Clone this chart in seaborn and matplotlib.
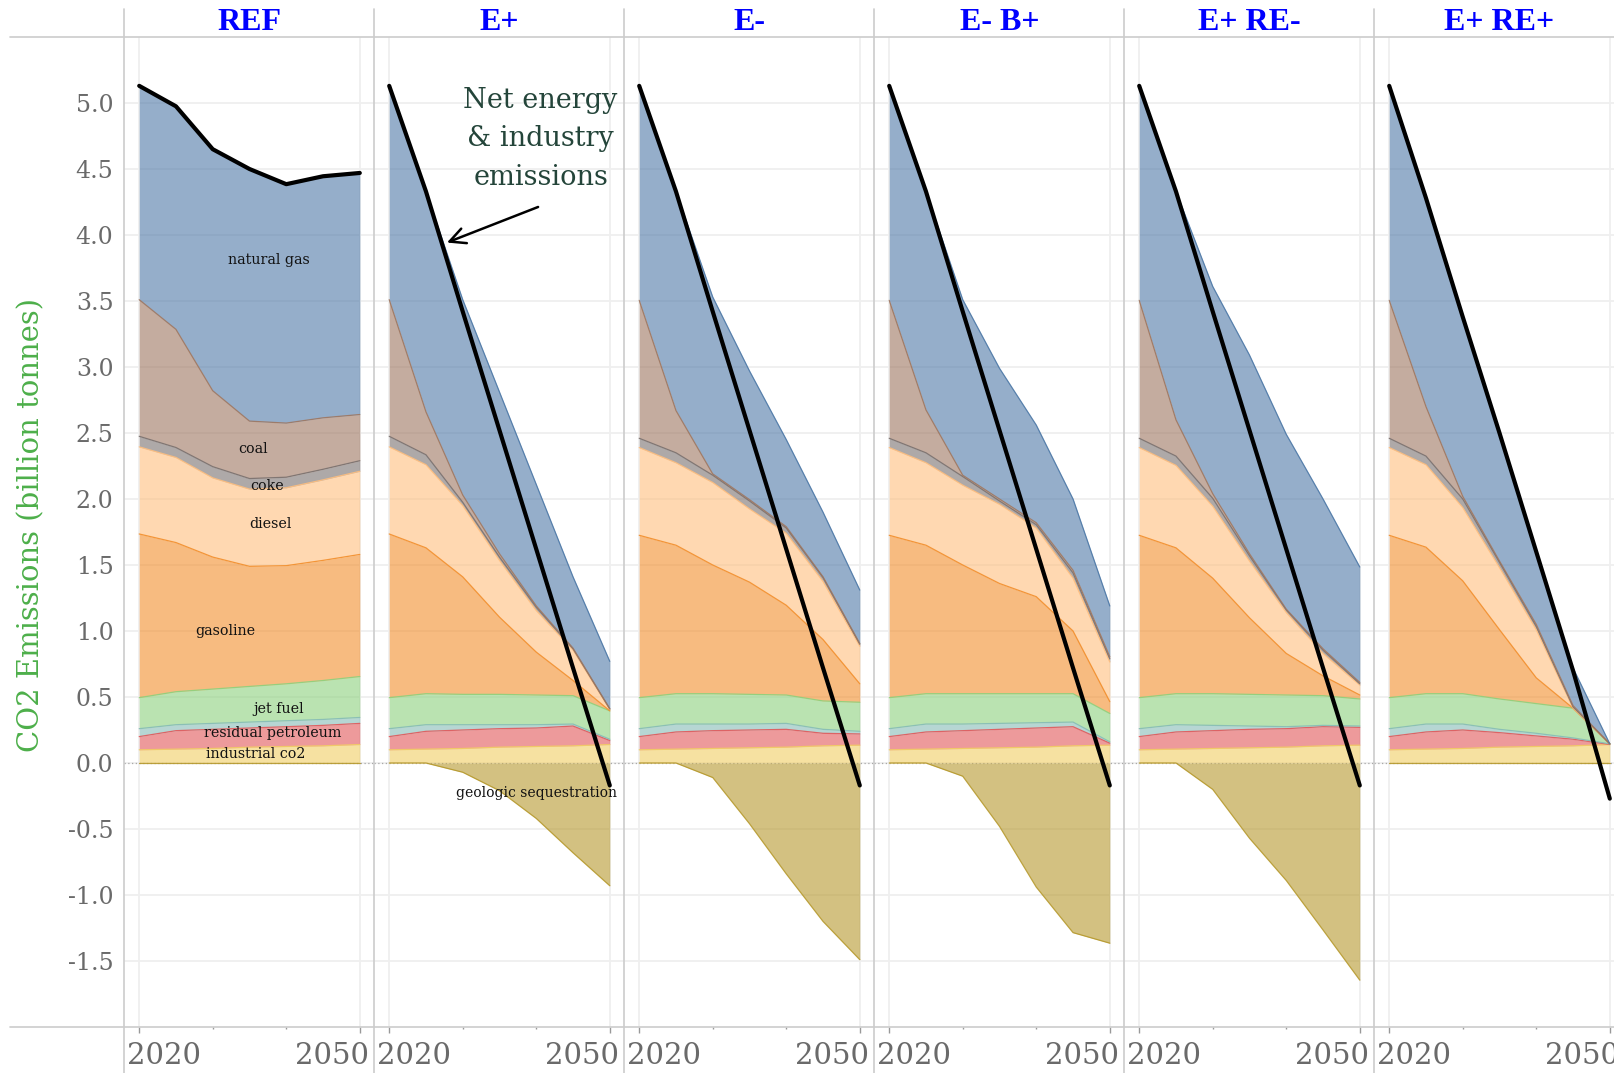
import numpy as np
import pandas as pd
import matplotlib
matplotlib.use("Agg")
import matplotlib.pyplot as plt
import matplotlib.transforms as mtransforms
from matplotlib.lines import Line2D
import seaborn as sns

YEARS = [2020, 2025, 2030, 2035, 2040, 2045, 2050]
SCENARIOS = ["REF", "E+", "E-", "E- B+", "E+ RE-", "E+ RE+"]

# billion tonnes CO2, one row per scenario (same order as SCENARIOS)
industrial_co2 = [
    [0.10, 0.105, 0.11, 0.12, 0.125, 0.13, 0.14],
    [0.10, 0.105, 0.11, 0.12, 0.125, 0.13, 0.14],
    [0.10, 0.105, 0.11, 0.115, 0.12, 0.13, 0.135],
    [0.10, 0.105, 0.11, 0.115, 0.12, 0.13, 0.135],
    [0.10, 0.105, 0.11, 0.115, 0.12, 0.13, 0.135],
    [0.10, 0.105, 0.11, 0.12, 0.125, 0.13, 0.14],
]
residual_petroleum = [
    [0.10, 0.14, 0.145, 0.145, 0.15, 0.155, 0.16],
    [0.10, 0.135, 0.14, 0.14, 0.14, 0.15, 0.03],
    [0.10, 0.13, 0.135, 0.135, 0.135, 0.095, 0.085],
    [0.10, 0.13, 0.135, 0.14, 0.145, 0.145, 0.015],
    [0.10, 0.13, 0.135, 0.14, 0.14, 0.145, 0.135],
    [0.10, 0.13, 0.14, 0.11, 0.08, 0.05, 0.0],
]
other_petroleum = [
    [0.06, 0.045, 0.045, 0.045, 0.045, 0.045, 0.045],
    [0.06, 0.05, 0.04, 0.03, 0.025, 0.015, 0.01],
    [0.06, 0.06, 0.05, 0.045, 0.045, 0.03, 0.02],
    [0.06, 0.06, 0.05, 0.045, 0.04, 0.035, 0.01],
    [0.06, 0.055, 0.04, 0.025, 0.015, 0.01, 0.01],
    [0.06, 0.06, 0.045, 0.025, 0.02, 0.01, 0.005],
]
jet_fuel = [
    [0.235, 0.25, 0.26, 0.27, 0.28, 0.295, 0.31],
    [0.235, 0.235, 0.23, 0.23, 0.225, 0.215, 0.215],
    [0.235, 0.23, 0.23, 0.225, 0.215, 0.215, 0.22],
    [0.235, 0.23, 0.23, 0.225, 0.22, 0.215, 0.215],
    [0.235, 0.235, 0.24, 0.24, 0.24, 0.225, 0.205],
    [0.235, 0.23, 0.23, 0.23, 0.225, 0.225, 0.0],
]
gasoline = [
    [1.24, 1.13, 1.0, 0.91, 0.895, 0.91, 0.925],
    [1.24, 1.105, 0.89, 0.585, 0.325, 0.115, 0.0],
    [1.23, 1.125, 0.975, 0.85, 0.68, 0.465, 0.14],
    [1.23, 1.125, 0.975, 0.835, 0.735, 0.475, 0.09],
    [1.23, 1.105, 0.875, 0.58, 0.315, 0.15, 0.03],
    [1.23, 1.11, 0.855, 0.525, 0.195, 0.0, 0.0],
]
diesel = [
    [0.66, 0.645, 0.6, 0.585, 0.59, 0.61, 0.63],
    [0.66, 0.63, 0.54, 0.43, 0.315, 0.23, 0.01],
    [0.665, 0.625, 0.625, 0.555, 0.545, 0.44, 0.285],
    [0.665, 0.625, 0.605, 0.60, 0.52, 0.40, 0.30],
    [0.665, 0.625, 0.545, 0.43, 0.31, 0.17, 0.075],
    [0.665, 0.625, 0.555, 0.47, 0.365, 0.0, 0.0],
]
coke = [
    [0.08, 0.075, 0.085, 0.08, 0.08, 0.08, 0.08],
    [0.08, 0.075, 0.025, 0.025, 0.025, 0.01, 0.005],
    [0.07, 0.075, 0.055, 0.06, 0.04, 0.03, 0.015],
    [0.07, 0.075, 0.065, 0.025, 0.025, 0.04, 0.025],
    [0.07, 0.07, 0.06, 0.04, 0.02, 0.025, 0.01],
    [0.07, 0.065, 0.065, 0.04, 0.025, 0.01, 0.0],
]
coal = [
    [1.035, 0.895, 0.575, 0.435, 0.41, 0.39, 0.35],
    [1.035, 0.325, 0.055, 0.025, 0.01, 0.005, 0.0],
    [1.045, 0.32, 0.01, 0.01, 0.01, 0.005, 0.005],
    [1.045, 0.325, 0.01, 0.015, 0.015, 0.02, 0.015],
    [1.045, 0.275, 0.035, 0.015, 0.005, 0.01, 0.01],
    [1.045, 0.375, 0.02, 0.01, 0.015, 0.01, 0.0],
]
natural_gas = [
    [1.62, 1.69, 1.83, 1.91, 1.81, 1.83, 1.83],
    [1.62, 1.67, 1.48, 1.225, 0.92, 0.54, 0.36],
    [1.625, 1.66, 1.34, 0.975, 0.66, 0.49, 0.405],
    [1.625, 1.655, 1.33, 0.99, 0.74, 0.54, 0.385],
    [1.625, 1.73, 1.57, 1.505, 1.325, 1.135, 0.875],
    [1.625, 1.58, 1.36, 0.97, 0.55, 0.285, 0.0],
]
geologic_sequestration = [
    [0, 0, 0, 0, 0, 0, 0],
    [0, 0, -0.07, -0.21, -0.42, -0.68, -0.93],
    [0, 0, -0.11, -0.46, -0.84, -1.20, -1.49],
    [0, 0, -0.10, -0.48, -0.94, -1.285, -1.365],
    [0, 0, -0.20, -0.57, -0.89, -1.265, -1.645],
    [0, 0, 0, 0, 0, 0, 0],
]
net_emissions = [
    [5.13, 4.975, 4.65, 4.50, 4.385, 4.445, 4.47],
    [5.13, 4.33, 3.42, 2.52, 1.62, 0.72, -0.17],
    [5.13, 4.33, 3.42, 2.52, 1.62, 0.72, -0.17],
    [5.13, 4.33, 3.42, 2.52, 1.62, 0.72, -0.17],
    [5.13, 4.33, 3.42, 2.52, 1.62, 0.72, -0.17],
    [5.13, 4.28, 3.38, 2.50, 1.60, 0.70, -0.27],
]

STACK = [
    ("industrial co2", industrial_co2, "#f1ce63"),
    ("residual petroleum", residual_petroleum, "#e15759"),
    ("other petroleum", other_petroleum, "#86bcb6"),
    ("jet fuel", jet_fuel, "#8cd17d"),
    ("gasoline", gasoline, "#f28e2b"),
    ("diesel", diesel, "#ffbe7d"),
    ("coke", coke, "#79706e"),
    ("coal", coal, "#9d7660"),
    ("natural gas", natural_gas, "#4e79a7"),
]
SEQ_COLOR = "#b6992d"

# labels drawn inside the REF panel (year, value)
ref_labels = [
    ("natural gas", 2037.7, 3.81),
    ("coal", 2035.5, 2.38),
    ("coke", 2037.4, 2.10),
    ("diesel", 2037.8, 1.81),
    ("gasoline", 2031.7, 1.00),
    ("jet fuel", 2039.0, 0.41),
    ("residual petroleum", 2038.1, 0.23),
    ("industrial co2", 2035.8, 0.066),
]

W, H = 1615, 1073
LEFT0, PANEL_W, TOP, BOTTOM = 124.5, 250, 37, 1027
GRID = "#cccccc"
TICK_GRAY = "#6a6a6a"

sns.set_theme(style="white")
plt.rcParams["font.family"] = ["DejaVu Serif", "DejaVu Sans"]

df_net = pd.DataFrame([
    {"scenario": s, "year": y, "net": v}
    for s, row in zip(SCENARIOS, net_emissions)
    for y, v in zip(YEARS, row)
])

fig = plt.figure(figsize=(W / 100, H / 100), dpi=100)

axes = []
for k, scen in enumerate(SCENARIOS):
    left = LEFT0 + PANEL_W * k
    ax = fig.add_axes([left / W, 1 - BOTTOM / H, PANEL_W / W, (BOTTOM - TOP) / H])
    axes.append(ax)
    ax.set_axisbelow(True)

    lower = np.zeros(len(YEARS))
    for name, data, col in STACK:
        upper = lower + np.array(data[k])
        ax.fill_between(YEARS, lower, upper, color=col, alpha=0.6, lw=0, zorder=2)
        ax.plot(YEARS, upper, color=col, lw=0.9, alpha=0.9, zorder=3)
        lower = upper
    seq = np.array(geologic_sequestration[k])
    ax.fill_between(YEARS, 0, seq, color=SEQ_COLOR, alpha=0.6, lw=0, zorder=2)
    ax.plot(YEARS, seq, color=SEQ_COLOR, lw=0.9, alpha=0.9, zorder=3)

    ax.axhline(0, color="#a8a8a8", lw=0.9, ls=(0, (1, 2)), zorder=1)

    sns.lineplot(data=df_net[df_net.scenario == scen], x="year", y="net",
                 color="black", lw=3.0, ax=ax, zorder=5)

    ax.set_xlim(2018, 2052)
    ax.set_ylim(-2.0, 5.5)
    ax.set_xlabel("")
    ax.set_ylabel("")
    for sp in ax.spines.values():
        sp.set_visible(False)

    ax.set_yticks(np.arange(-1.5, 5.01, 0.5))
    ax.set_xticks([2020, 2050])
    ax.set_xticks([2030, 2040], minor=True)
    ax.grid(True, axis="y", color="#efefef", lw=1.3)
    ax.grid(True, axis="x", which="major", color="#efefef", lw=1.3)
    ax.tick_params(axis="x", which="major", length=4.5, width=1, color="#999999",
                   pad=6, labelsize=21, labelcolor=TICK_GRAY, bottom=True)
    ax.tick_params(axis="x", which="minor", length=1.5, width=1, color="#999999", bottom=True)
    if k == 0:
        ax.set_yticklabels([f"{v:.1f}" for v in np.arange(-1.5, 5.01, 0.5)])
        ax.tick_params(axis="y", length=0, pad=8, labelsize=17, labelcolor=TICK_GRAY)
    else:
        ax.tick_params(axis="y", length=0, labelleft=False)

    ax.set_xticklabels(["2020", "2050"])
    labs = ax.get_xticklabels()
    labs[0].set_ha("left")
    labs[0].set_transform(labs[0].get_transform() +
                          mtransforms.ScaledTranslation(-12 / 100, 0, fig.dpi_scale_trans))
    labs[1].set_ha("right")
    labs[1].set_transform(labs[1].get_transform() +
                          mtransforms.ScaledTranslation(9 / 100, 0, fig.dpi_scale_trans))

    ax.annotate(scen, xy=(0.5, 1), xycoords="axes fraction", xytext=(0, 15),
                textcoords="offset pixels", ha="center", va="center",
                fontsize=23, fontweight="bold", color="blue",
                family=["Liberation Serif", "DejaVu Serif"])

# labels in the REF panel
for txt, x, y in ref_labels:
    axes[0].text(x, y, txt, ha="center", va="center", fontsize=10.3, color="#111111", zorder=6)
axes[1].text(2040.1, -0.23, "geologic sequestration", ha="center", va="center",
             fontsize=10, color="#111111", zorder=6, clip_on=False)

# callout for the net line
axes[1].annotate("", xy=(2027.5, 3.935), xytext=(2040.6, 4.22),
                 arrowprops=dict(arrowstyle="->", lw=1.8, color="black", mutation_scale=28),
                 zorder=7)
axes[1].text(2040.6, 4.73, "Net energy\n& industry\nemissions", ha="center", va="center",
             fontsize=19.5, color="#24453a", linespacing=1.55, zorder=7)

fig.text(31 / W, 1 - 525 / H, "CO2 Emissions (billion tonnes)", rotation=90,
         ha="center", va="center", fontsize=21, color="#4daf4a")

# facet frame lines
for k in range(7):
    x = (LEFT0 + PANEL_W * k) / W
    fig.add_artist(Line2D([x, x], [1 - 9 / H, 0], transform=fig.transFigure,
                          color=GRID, lw=1.2))
for yy in (TOP, BOTTOM):
    fig.add_artist(Line2D([10 / W, 1], [1 - yy / H] * 2, transform=fig.transFigure,
                          color=GRID, lw=1.2))

fig.savefig("out.png", dpi=100)
